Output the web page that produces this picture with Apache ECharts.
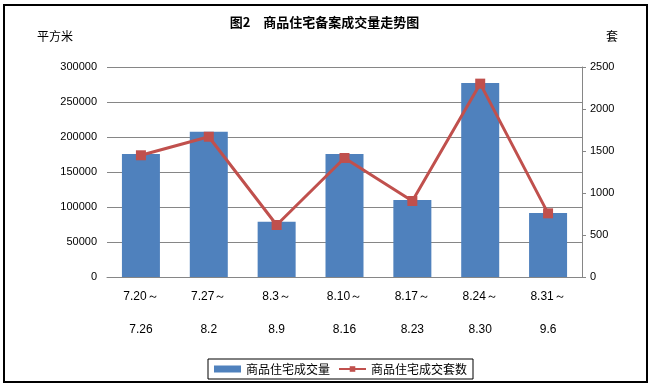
<!DOCTYPE html>
<html><head><meta charset="utf-8">
<script src="https://cdn.jsdelivr.net/npm/echarts@6/dist/echarts.min.js"></script>
<style>html,body{margin:0;padding:0;background:#fff}#c{width:649px;height:386px}</style>
</head><body><div id="c"></div>
<script>
var categories = ['7.20～\n\n7.26','7.27～\n\n8.2','8.3～\n\n8.9','8.10～\n\n8.16','8.17～\n\n8.23','8.24～\n\n8.30','8.31～\n\n9.6'];
var areaValues = [175600, 207400, 78800, 175600, 110100, 277200, 91600];
var unitValues = [1449, 1670, 619, 1417, 905, 2302, 758];
var leftTicks = {min: 0, max: 300000, interval: 50000};
var rightTicks = {min: 0, max: 2500, interval: 500};
var cjk = '"Noto Sans CJK SC", sans-serif';
var plain = function (v) { return String(v); };
var chart = echarts.init(document.getElementById('c'));
chart.setOption({
  animation: false,
  backgroundColor: '#fff',
  title: [
    {text: '图2　商品住宅备案成交量走势图', left: 'center', top: 11,
     textStyle: {fontFamily: cjk, fontSize: 13, fontWeight: 'bold', color: '#000'}},
    {text: '平方米', left: 32, top: 25, textStyle: {fontFamily: cjk, fontSize: 12, fontWeight: 'normal', color: '#000'}},
    {text: '套', left: 601, top: 25, textStyle: {fontFamily: cjk, fontSize: 12, fontWeight: 'normal', color: '#000'}}
  ],
  graphic: [{type: 'rect', shape: {x: 4, y: 5, width: 643, height: 377},
    style: {fill: 'none', stroke: '#000', lineWidth: 2}, silent: true}],
  legend: {
    left: 208, top: 359, padding: [4, 6], borderColor: '#000', borderWidth: 1,
    itemWidth: 27, itemHeight: 7, itemGap: 8,
    textStyle: {fontFamily: cjk, fontSize: 12, color: '#000'},
    data: [{name: '商品住宅成交量', icon: 'rect'}, {name: '商品住宅成交套数'}]
  },
  grid: {left: 107, right: 67, top: 67, bottom: 109},
  xAxis: {
    type: 'category', data: categories,
    axisLine: {lineStyle: {color: '#868686'}},
    axisTick: {show: false},
    axisLabel: {color: '#000', fontFamily: 'Liberation Sans', fontSize: 12, lineHeight: 16.5, margin: 11, interval: 0}
  },
  yAxis: [
    {type: 'value', min: leftTicks.min, max: leftTicks.max, interval: leftTicks.interval,
     axisLine: {show: false}, axisTick: {show: false},
     splitLine: {lineStyle: {color: '#868686', width: 1}},
     axisLabel: {color: '#000', fontFamily: 'Liberation Sans', fontSize: 11, margin: 10, formatter: plain}},
    {type: 'value', min: rightTicks.min, max: rightTicks.max, interval: rightTicks.interval,
     position: 'right',
     axisLine: {show: true, lineStyle: {color: '#868686'}},
     axisTick: {show: true, length: 4, lineStyle: {color: '#868686'}},
     splitLine: {show: false},
     axisLabel: {color: '#000', fontFamily: 'Liberation Sans', fontSize: 11, margin: 8, formatter: plain}}
  ],
  series: [
    {name: '商品住宅成交量', type: 'bar', data: areaValues, yAxisIndex: 0,
     barWidth: '56%', itemStyle: {color: '#4F81BD'}},
    {name: '商品住宅成交套数', type: 'line', data: unitValues, yAxisIndex: 1,
     symbol: 'rect', symbolSize: 10,
     lineStyle: {color: '#C0504D', width: 3}, itemStyle: {color: '#C0504D'}}
  ]
});
</script></body></html>
